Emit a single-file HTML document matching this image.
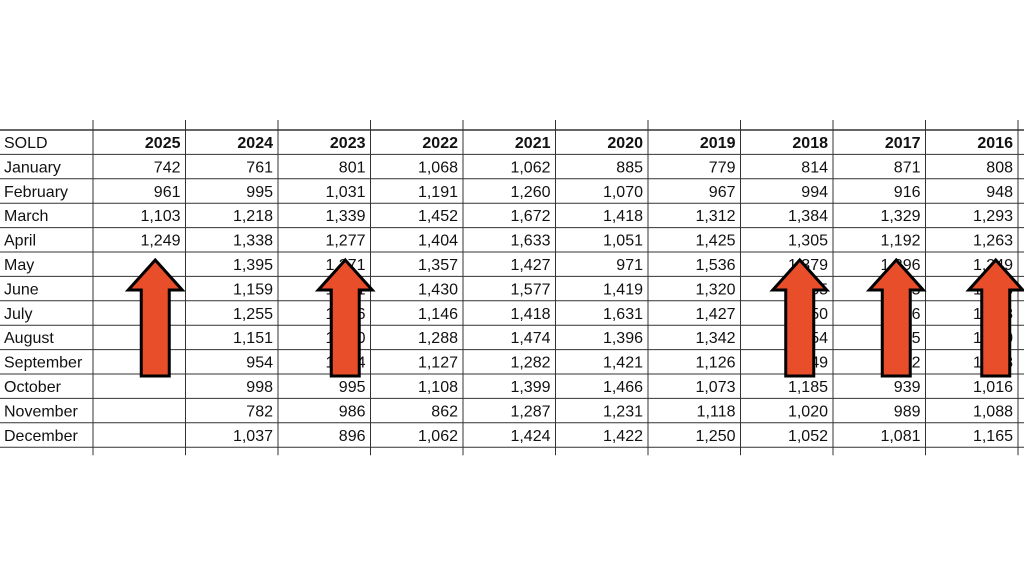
<!DOCTYPE html>
<html><head><meta charset="utf-8"><style>
html,body{margin:0;padding:0;background:#fff;}
svg{display:block;font-family:"Liberation Sans",Arial,sans-serif;}
</style></head><body>
<svg id="s" width="1024" height="576" viewBox="0 0 1024 576"></svg>
<script>
const years=["2025","2024","2023","2022","2021","2020","2019","2018","2017","2016"];
const months=["January","February","March","April","May","June","July","August","September","October","November","December"];
const v2025=["742","961","1,103","1,249","","","","","","","",""];
const v2024=["761","995","1,218","1,338","1,395","1,159","1,255","1,151","954","998","782","1,037"];
const v2023=["801","1,031","1,339","1,277","1,271","1,241","1,176","1,150","1,014","995","986","896"];
const v2022=["1,068","1,191","1,452","1,404","1,357","1,430","1,146","1,288","1,127","1,108","862","1,062"];
const v2021=["1,062","1,260","1,672","1,633","1,427","1,577","1,418","1,474","1,282","1,399","1,287","1,424"];
const v2020=["885","1,070","1,418","1,051","971","1,419","1,631","1,396","1,421","1,466","1,231","1,422"];
const v2019=["779","967","1,312","1,425","1,536","1,320","1,427","1,342","1,126","1,073","1,118","1,250"];
const v2018=["814","994","1,384","1,305","1,379","1,355","1,350","1,354","1,249","1,185","1,020","1,052"];
const v2017=["871","916","1,329","1,192","1,296","1,305","1,216","1,185","1,112","939","989","1,081"];
const v2016=["808","948","1,293","1,263","1,249","1,318","1,218","1,230","1,148","1,016","1,088","1,165"];
const arrowCols=[0,2,7,8,9];
const arrowOffsets=[16,21,13,17,24];
const cols=[v2025,v2024,v2023,v2022,v2021,v2020,v2019,v2018,v2017,v2016];
const NS="http://www.w3.org/2000/svg";
const s=document.getElementById('s');
const top0=130,rh=24.4,x0=93,cw=92.5;
function el(t,a){const e=document.createElementNS(NS,t);for(const k in a)e.setAttribute(k,a[k]);s.appendChild(e);return e;}
for(let i=0;i<=13;i++){
  const l=el('line',{x1:0,x2:1024,y1:top0+i*rh,y2:top0+i*rh,stroke:'#333','stroke-width':i==0?1.6:1});
  
  
}
for(let j=0;j<=10;j++){
  const x=x0+j*cw;
  const l=el('line',{x1:x,x2:x,y1:top0-10,y2:top0+13*rh+8,stroke:'#333','stroke-width':1});
  
  
}
function txt(x,y,str,anchor,bold,name){
  const t=el('text',{x:x,y:y,'font-size':16,fill:'#111','text-anchor':anchor,'font-weight':bold?'bold':'normal'});
  t.textContent=str;
  
  
}
txt(4,top0+18,"SOLD","start",false,"sold-header");
years.forEach((y,j)=>txt(x0+(j+1)*cw-5,top0+18,y,"end",true,"year-header"));
months.forEach((m,i)=>{
  txt(4,top0+(i+1)*rh+18,m,"start",false,"month-label");
  cols.forEach((c,j)=>{ if(c[i]) txt(x0+(j+1)*cw-5,top0+(i+1)*rh+18,c[i],"end",false,"sold-value"); });
});
arrowCols.forEach((j,k)=>{
  const cx=x0+j*cw+cw/2+arrowOffsets[k];
  const ty=260,hy=290,by=376;
  const p=el('polygon',{points:`${cx},${ty} ${cx+27},${hy} ${cx+14},${hy} ${cx+14},${by} ${cx-14},${by} ${cx-14},${hy} ${cx-27},${hy}`,fill:'#e84e2a',stroke:'#000','stroke-width':3,'stroke-linejoin':'miter'});
  
  
});
</script>
</body></html>
